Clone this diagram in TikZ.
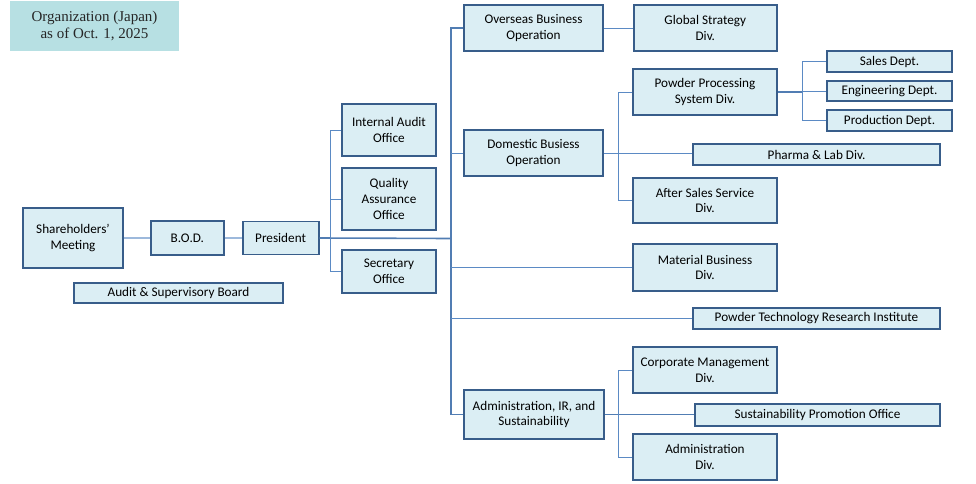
\documentclass[tikz,border=0pt]{standalone}
\usepackage{fontspec}
\setmainfont{Carlito}
\newfontfamily\titlefont{Liberation Serif}
\usepackage{xcolor}
\usetikzlibrary{positioning}
\definecolor{boxfill}{HTML}{DBEEF4}
\definecolor{boxline}{HTML}{385D8A}
\definecolor{linkblue}{HTML}{5B8AC4}
\definecolor{titlefill}{HTML}{B7E0E3}
\tikzset{
  unit/.style={draw=boxline, fill=boxfill, line width=1.8pt, inner sep=0pt,
    align=center, text=black, font=\fontsize{13.2}{15.8}\selectfont},
  link/.style={draw=linkblue, line width=1pt},
  trunk/.style={draw=linkblue!70!boxline, line width=1.6pt},
}

\begin{document}
\begin{tikzpicture}[x=1pt, y=-1pt]
\useasboundingbox (0,0) rectangle (976,483);
%title
\node[fill=titlefill, minimum width=169pt, minimum height=50pt, align=center,
  text=black!85, font=\titlefont\fontsize{15}{17.5}\selectfont] (org) at (94.5,26)
  {Organization (Japan)\\as of Oct. 1, 2025};
%top management
\node[unit, minimum width=100pt, minimum height=60pt] (sh) at (73,238) {Shareholders'\\Meeting};
\node[unit, minimum width=73pt, minimum height=34pt, right=26pt of sh] (bod) {B.O.D.};
\node[unit, minimum width=76pt, minimum height=33pt, right=17pt of bod] (pres) {President};
\node[unit, minimum width=209pt, minimum height=20pt] (asb) at (178.5,293) {Audit \& Supervisory Board};
\node[unit, minimum width=94pt, minimum height=52pt] (iao) at (389,130) {Internal Audit\\Office};
\node[unit, minimum width=94pt, minimum height=62pt] (qao) at (389,199) {Quality\\Assurance\\Office};
\node[unit, minimum width=94pt, minimum height=43pt] (sec) at (389,271.5) {Secretary\\Office};
%operations
\node[unit, minimum width=139pt, minimum height=46pt] (ovs) at (533.5,28) {Overseas Business\\Operation};
\node[unit, minimum width=143pt, minimum height=46pt, right=29pt of ovs] (gsd) {Global Strategy\\Div.};
\node[unit, minimum width=139pt, minimum height=46pt] (dom) at (533.5,153) {Domestic Busiess\\Operation};
\node[unit, minimum width=144pt, minimum height=46pt] (pps) at (705,92) {Powder Processing\\System Div.};
\node[unit, minimum width=125pt, minimum height=21pt] (sal) at (889.5,61.5) {Sales Dept.};
\node[unit, minimum width=125pt, minimum height=20pt] (eng) at (889.5,91) {Engineering Dept.};
\node[unit, minimum width=125pt, minimum height=21pt] (prd) at (889.5,120.5) {Production Dept.};
\node[unit, minimum width=247pt, minimum height=21pt] (pla) at (816.5,154.5) {Pharma \& Lab Div.};
\node[unit, minimum width=144pt, minimum height=45pt] (ass) at (705,200.5) {After Sales Service\\Div.};
\node[unit, minimum width=144pt, minimum height=47pt] (mat) at (705,267.5) {Material Business\\Div.};
\node[unit, minimum width=247pt, minimum height=21pt] (ptri) at (816.5,318.5) {Powder Technology Research Institute};
%administration
\node[unit, minimum width=140pt, minimum height=49pt] (admir) at (534,414.5) {Administration, IR, and\\Sustainability};
\node[unit, minimum width=144pt, minimum height=46pt] (cmd) at (705,370) {Corporate Management\\Div.};
\node[unit, minimum width=245pt, minimum height=22pt] (spo) at (817.5,415) {Sustainability Promotion Office};
\node[unit, minimum width=144pt, minimum height=46pt] (adm) at (705,457) {Administration\\Div.};
%lines
\coordinate (tk) at (451,238.5);
\coordinate (pb) at (330,238.5);
\coordinate (db) at (618,153);
\coordinate (ppsb) at (802,92);
\coordinate (adb) at (618,414.5);
\draw[link, line width=1.6pt, draw=linkblue!60] (sh.east) -- (bod.west);
\draw[link, line width=1.6pt, draw=linkblue!60] (bod.east) -- (pres.west);
\draw[trunk] (pres.east) -- (tk);
\draw[trunk] (ovs.west) -| (tk) |- (admir.west);
\foreach \n in {iao,qao,sec}
  \draw[link] (pb) |- (\n.west);
\foreach \n in {dom,mat,ptri}
  \draw[link] (tk |- \n.west) -- (\n.west);
\draw[link] (ovs.east) -- (gsd.west);
\draw[link] (dom.east) -- (dom.east -| pla.west);
\foreach \n in {pps,ass}
  \draw[link] (db) |- (\n.west);
\draw[trunk] (pps.east) -- (ppsb);
\foreach \n in {sal,eng,prd}
  \draw[link] (ppsb) |- (\n.west);
\draw[trunk] (admir.east) -- (admir.east -| spo.west);
\foreach \n in {cmd,adm}
  \draw[link] (adb) |- (\n.west);
\end{tikzpicture}
\end{document}
